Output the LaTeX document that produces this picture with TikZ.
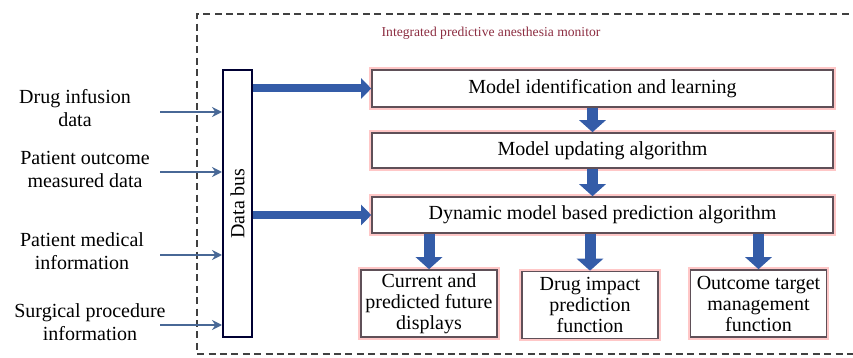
\documentclass[tikz,border=0pt]{standalone}
\usepackage{fontspec}
\setmainfont{Liberation Serif}
\usetikzlibrary{arrows.meta,positioning}
\definecolor{busblue}{RGB}{52,92,168}
\definecolor{inblue}{RGB}{72,104,150}
\definecolor{titlered}{RGB}{140,45,65}
\definecolor{boxline}{RGB}{95,80,88}
\tikzset{
  blockbox/.style={draw=boxline, line width=0.8pt, preaction={draw=red!22, line width=2.6pt},
    fill=white, inner sep=1pt, font=\fontsize{10}{10.5}\selectfont},
  outbox/.style={blockbox, align=center, minimum width=68pt, minimum height=33.5pt},
  sidelabel/.style={align=center, font=\fontsize{10}{11.5}\selectfont},
  inarrow/.style={draw=inblue, line width=1.2pt, -{Stealth[length=5pt,width=5pt]}},
  busarrow/.style={draw=busblue, line width=4pt, -{Triangle[length=5pt,width=10pt]}},
  downarrow/.style={draw=busblue, line width=5.5pt, -{Triangle[length=6pt,width=13pt]}}
}
\begin{document}
\begin{tikzpicture}[x=0.5pt,y=-0.5pt]
\useasboundingbox (0,0) rectangle (853,358);
% monitor frame
\draw[line width=1pt, black!75, dash pattern=on 3.5pt off 2.2pt] (860,14)--(197,14)--(197,354)--(860,354);
\node[text=titlered, font=\fontsize{6.8}{8}\selectfont] (title) at (491,33) {Integrated predictive anesthesia monitor};
% data bus
\node[draw=black!80!blue, line width=1pt, fill=white, minimum width=14.5pt, minimum height=133.5pt, inner sep=0pt] (bus) at (237.5,203.5) {\rotatebox{90}{\fontsize{10}{10}\selectfont Data bus}};
% inputs
\node[sidelabel] (drug) at (75,108) {Drug infusion\\data};
\node[sidelabel] (outcome) at (85,169) {Patient outcome\\measured data};
\node[sidelabel] (medical) at (82,251) {Patient medical\\information};
\node[sidelabel] (surgical) at (90,322) {Surgical procedure\\information};
\coordinate (in1) at (160,112);
\coordinate (in2) at (160,172);
\coordinate (in3) at (160,255);
\coordinate (in4) at (160,325);
\foreach \i in {1,...,4}
  \draw[inarrow] (in\i) -- (in\i -| bus.west);
% algorithm blocks
\node[blockbox, minimum width=230.5pt, minimum height=18.5pt] (ident) at (602.5,88.5) {Model identification and learning};
\node[blockbox, minimum width=230.5pt, minimum height=17.5pt] (update) at (602.5,150.5) {Model updating algorithm};
\node[blockbox, minimum width=230.5pt, minimum height=18pt] (predict) at (602.5,215) {Dynamic model based prediction algorithm};
\node[outbox] (disp) at (429,303.5) {Current and\\predicted future\\displays};
\node[outbox] (impact) at (590,305) {Drug impact\\prediction\\function};
\node[outbox] (target) at (758.5,303.5) {Outcome target\\management\\function};
% connections
\draw[busarrow] (bus.east |- ident.west) -- (ident.west);
\draw[busarrow] (bus.east |- predict.west) -- (predict.west);
\draw[downarrow] ([xshift=-5pt]ident.south) -- ([xshift=-5pt]update.north);
\draw[downarrow] ([xshift=-5pt]update.south) -- ([xshift=-5pt]predict.north);
\foreach \b in {disp,impact,target}
  \draw[downarrow] (predict.south -| \b.north) -- (\b.north);
\end{tikzpicture}
\end{document}
